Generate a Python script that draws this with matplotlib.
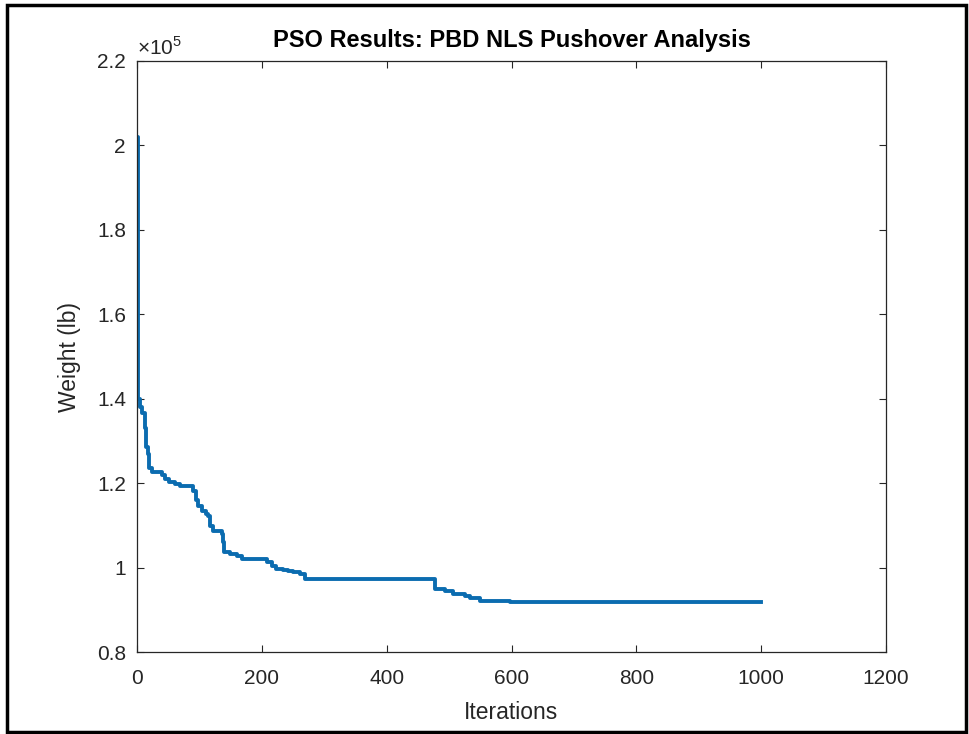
import matplotlib.pyplot as plt
from matplotlib.patches import Rectangle
from matplotlib.ticker import FuncFormatter

# Data: best weight so far at each change point
iterations = [0, 2, 5, 8, 13, 15, 18, 19, 24, 40, 45, 52, 61, 69, 90, 94, 98,
              104, 110, 114, 117, 122, 136, 138, 140, 149, 160, 168, 208, 216,
              222, 234, 242, 250, 261, 269, 478, 494, 506, 526, 534, 550, 598,
              1000]
weight = [2.02, 1.40, 1.38, 1.367, 1.33, 1.285, 1.27, 1.237, 1.226, 1.220,
          1.209, 1.203, 1.197, 1.193, 1.181, 1.16, 1.145, 1.133, 1.127, 1.122,
          1.098, 1.086, 1.079, 1.06, 1.036, 1.032, 1.027, 1.020, 1.013, 1.003,
          0.996, 0.994, 0.991, 0.989, 0.984, 0.973, 0.949, 0.944, 0.937,
          0.933, 0.928, 0.921, 0.919, 0.919]
weight = [w * 1e5 for w in weight]

x_ticks = [0, 200, 400, 600, 800, 1000, 1200]
y_ticks = [0.8e5, 1.0e5, 1.2e5, 1.4e5, 1.6e5, 1.8e5, 2.0e5, 2.2e5]

plt.rcParams['font.family'] = ['Liberation Sans', 'DejaVu Sans']
plt.rcParams['mathtext.fontset'] = 'custom'
plt.rcParams['mathtext.rm'] = 'Liberation Sans'

W, H = 969, 734
fig = plt.figure(figsize=(W / 100, H / 100), dpi=100)
ax = fig.add_axes([137 / W, 1 - 652 / H, (886 - 137) / W, (652 - 61) / H])

ax.plot(iterations, weight, drawstyle="steps-post", color="#0B6CB0",
        linewidth=2.8)

ax.set_xlim(0, 1200)
ax.set_ylim(0.8e5, 2.2e5)
ax.set_xticks(x_ticks)
ax.set_yticks(y_ticks)
ax.yaxis.set_major_formatter(FuncFormatter(lambda v, p: "%g" % round(v / 1e5, 2)))

txt_col = "#262626"
ax.tick_params(direction="in", top=True, right=True, length=5, width=0.8,
               colors=txt_col, labelsize=15)
ax.tick_params(axis="x", pad=12.5)
ax.tick_params(axis="y", pad=8)
for s in ax.spines.values():
    s.set_color(txt_col)
    s.set_linewidth(0.9)

ax.text(0, 1.01, r"$\times\mathregular{10}^{5}$", transform=ax.transAxes,
        fontsize=15, color=txt_col, ha="left", va="baseline")

ax.set_title("PSO Results: PBD NLS Pushover Analysis", fontsize=17,
             fontweight="bold", pad=10)
ax.set_xlabel("Iterations", fontsize=16.5, color=txt_col, labelpad=9)
ax.set_ylabel("Weight (lb)", fontsize=16.5, color=txt_col, labelpad=11)

# outer frame of the screenshot
fig.patches.append(Rectangle((7 / W, 2 / H), 959 / W, 727 / H,
                             transform=fig.transFigure, fill=False,
                             edgecolor="black", linewidth=2.5))

fig.savefig("out.png", dpi=100)
